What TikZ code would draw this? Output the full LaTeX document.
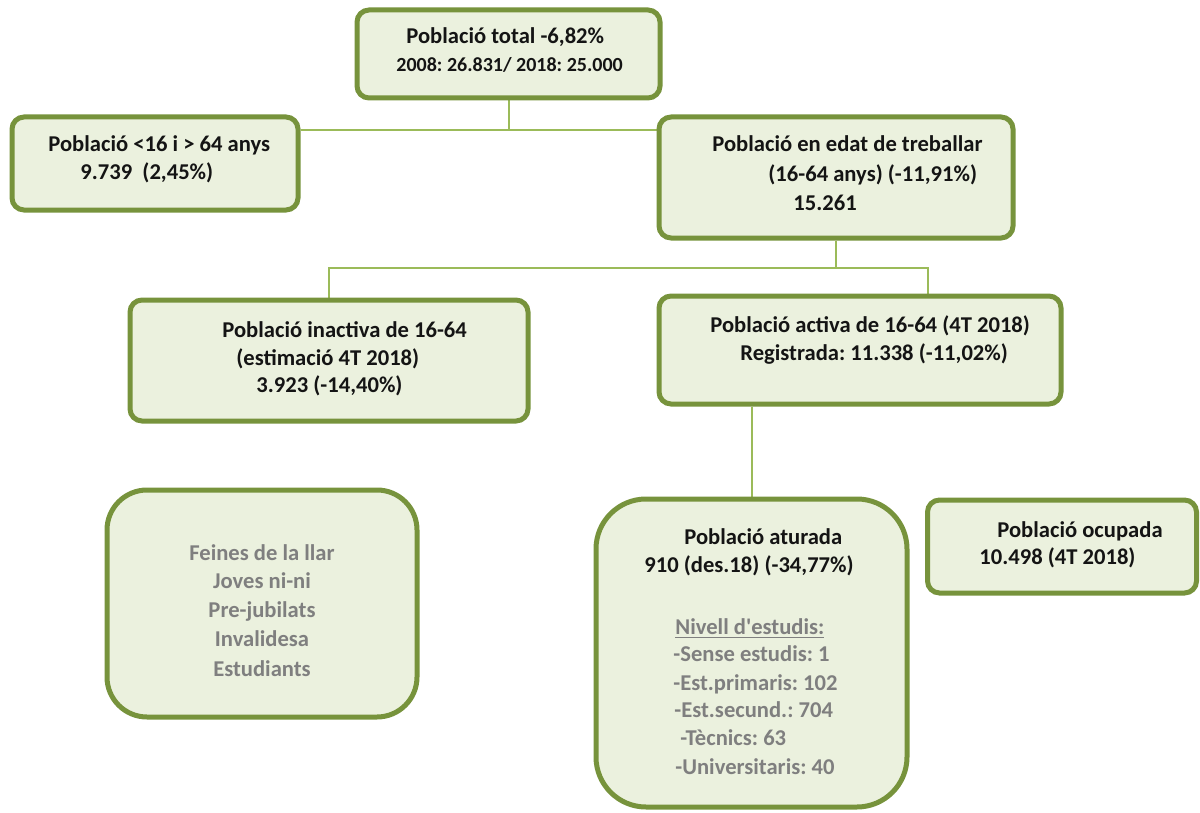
\documentclass[tikz,border=0pt]{standalone}
\usepackage{fontspec}
\setmainfont{Carlito}
\frenchspacing
\definecolor{boxgreen}{HTML}{77933C}
\definecolor{boxfill}{HTML}{EBF1DE}
\definecolor{linegreen}{HTML}{9BBB59}
\definecolor{greytext}{HTML}{7F7F7F}
\definecolor{darktext}{HTML}{141414}
\pgfdeclarelayer{bg}
\pgfsetlayers{bg,main}
\begin{document}
\begin{tikzpicture}[x=0.5pt,y=-0.5pt,
  box/.style={draw=boxgreen, line width=2.5pt, fill=boxfill, rounded corners=6pt, inner sep=0pt},
  conn/.style={draw=linegreen, line width=1pt},
  txt/.style={anchor=base west, inner sep=0pt, text=darktext, font=\bfseries\fontsize{11.3}{13}\selectfont},
  txtsm/.style={txt, font=\bfseries\fontsize{10}{12}\selectfont},
  gtxt/.style={txt, text=greytext},
  gctr/.style={anchor=base, inner sep=0pt, text=greytext, font=\bfseries\fontsize{11.3}{13}\selectfont}]
\useasboundingbox (0,0) rectangle (1200,813);
% boxes
\node[box, minimum width=151.5pt, minimum height=44pt] (top) at (508.5,54) {};
\node[box, minimum width=143pt, minimum height=46.5pt] (left) at (155,163.5) {};
\node[box, minimum width=177pt, minimum height=60.5pt] (edat) at (836,177.5) {};
\node[box, minimum width=199pt, minimum height=60.5pt] (inact) at (329,360.5) {};
\node[box, minimum width=201pt, minimum height=54pt] (act) at (860,350) {};
\node[box, rounded corners=20pt, minimum width=155pt, minimum height=113.5pt] (llar) at (262,603.5) {};
\node[box, rounded corners=25pt, minimum width=155.5pt, minimum height=154pt] (atur) at (751.5,653) {};
\node[box, minimum width=134.5pt, minimum height=46.5pt] (ocup) at (1062,546.5) {};
% connectors
\coordinate (j1) at (top.south |- 0,130);
\coordinate (j2) at (edat.south |- 0,268);
\coordinate (actin) at (928,296);
\begin{pgfonlayer}{bg}
\draw[conn] (top.south) -- (j1);
\draw[conn] (left.east |- j1) -- (edat.west |- j1);
\draw[conn] (edat.south) -- (j2);
\draw[conn] (inact.north) |- (actin |- j2) -- (actin);
\draw[conn] (atur.north |- act.south) -- (atur.north);
\end{pgfonlayer}
% texts
\node[txt] (t1a) at (406,44) {Població total -6,82\%};
\node[txtsm] (t1b) at (396,72) {2008: 26.831/ 2018: 25.000};
\node[txt] (t2a) at (48,152) {Població <16 i > 64 anys};
\node[txt] (t2b) at (80,179) {9.739\ \ (2,45\%)};
\node[txt] (t3a) at (712,152) {Població en edat de treballar};
\node[txt] (t3b) at (768,182) {(16-64 anys) (-11,91\%)};
\node[txt] (t3c) at (793,210) {15.261};
\node[txt] (t4a) at (222,337) {Població inactiva de 16-64};
\node[txt] (t4b) at (236,365) {(estimació 4T 2018)};
\node[txt] (t4c) at (256,392) {3.923 (-14,40\%)};
\node[txt] (t5a) at (710,332) {Població activa de 16-64 (4T 2018)};
\node[txt] (t5b) at (740,360) {Registrada: 11.338 (-11,02\%)};
\node[gctr] (t6a) at (262,560) {Feines de la llar};
\node[gctr] (t6b) at (262,588) {Joves ni-ni};
\node[gctr] (t6c) at (262,617) {Pre-jubilats};
\node[gctr] (t6d) at (262,646) {Invalidesa};
\node[gctr] (t6e) at (262,676) {Estudiants};
\node[txt] (t7a) at (684,544) {Població aturada};
\node[txt] (t7b) at (644,572) {910 (des.18) (-34,77\%)};
\node[gtxt] (t7c) at (675,634) {\underline{Nivell d\textquotesingle estudis:}};
\node[gtxt] (t7d) at (673,661) {-Sense estudis: 1};
\node[gtxt] (t7e) at (673,690) {-Est.primaris: 102};
\node[gtxt] (t7f) at (674,717) {-Est.secund.: 704};
\node[gtxt] (t7g) at (680,745) {-Tècnics: 63};
\node[gtxt] (t7h) at (675,774) {-Universitaris: 40};
\node[txt] (t8a) at (997,537) {Població ocupada};
\node[txt] (t8b) at (979,564) {10.498 (4T 2018)};
\end{tikzpicture}
\end{document}
